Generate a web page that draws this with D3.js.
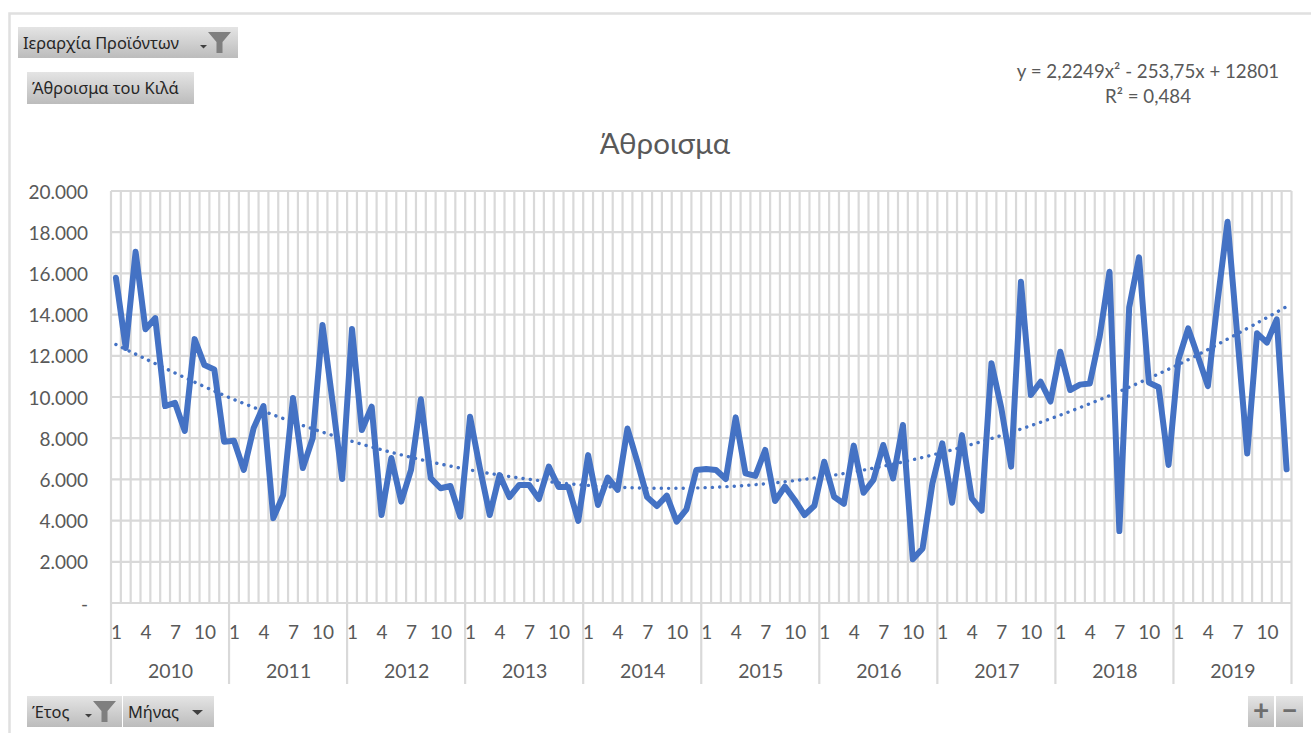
<!DOCTYPE html>
<html lang="el">
<head>
<meta charset="utf-8">
<title>Άθροισμα</title>
<script src="https://cdn.jsdelivr.net/npm/d3@7/dist/d3.min.js"></script>
<style>
  html, body { margin: 0; padding: 0; background: #fff; overflow: hidden; }
  svg { display: block; }
  text { font-family: Lato, "Noto Sans", sans-serif; }
  .axis text { fill: #595959; }
  .btn-label { fill: #262626; font-size: 16.4px; font-family: "Noto Sans", Lato, sans-serif; }
</style>
</head>
<body>
<svg id="chart" width="1311" height="733"></svg>
<script>
// Monthly totals (kg), January 2010 to December 2019
const years = [2010, 2011, 2012, 2013, 2014, 2015, 2016, 2017, 2018, 2019];
const monthTicks = [1, 4, 7, 10];
const yTicks = [0, 2000, 4000, 6000, 8000, 10000, 12000, 14000, 16000, 18000, 20000];
const kilos = [
  15790, 12380, 17050, 13290, 13830, 9560, 9720, 8350, 12810, 11550, 11340, 7830,
  7880, 6460, 8490, 9560, 4120, 5240, 9950, 6550, 8000, 13500, 9850, 6020,
  13300, 8400, 9530, 4270, 7040, 4920, 6460, 9890, 6060, 5570, 5680, 4190,
  9040, 6540, 4270, 6210, 5140, 5730, 5730, 5050, 6620, 5630, 5630, 3990,
  7180, 4760, 6090, 5490, 8470, 6860, 5140, 4710, 5210, 3950, 4550, 6460,
  6500, 6460, 6020, 9010, 6290, 6170, 7430, 4950, 5650, 5000, 4270, 4720,
  6860, 5160, 4820, 7640, 5350, 5970, 7670, 6050, 8640, 2120, 2650, 5810,
  7750, 4870, 8150, 5080, 4480, 11640, 9470, 6620, 15600, 10100, 10740, 9780,
  12200, 10340, 10600, 10660, 12930, 16080, 3490, 14350, 16780, 10700, 10470, 6700,
  11800, 13330, 11960, 10530, 14710, 18510, 12930, 7260, 13090, 12640, 13770, 6490
];
// Polynomial trend, read at the first month of each year and at the last month
const trendIndex = [1, 13, 25, 37, 49, 61, 73, 85, 97, 109, 120];
const trendKilos = [12549, 9878, 7848, 6458, 5709, 5601, 6134, 7307, 9121, 11575, 14389];

const chartTitle = "Άθροισμα";
const equationLines = ["y = 2,2249x² - 253,75x + 12801", "R² = 0,484"];

const svg = d3.select("#chart");
const plot = { left: 111, right: 1291.5, top: 191, bottom: 603 };
const gridColor = "#d9d9d9";
const textColor = "#595959";

const months = d3.range(1, kilos.length + 1);
const x = d3.scaleBand().domain(months).range([plot.left, plot.right]);
const xIndex = d3.scaleLinear()
  .domain([1, kilos.length])
  .range([x(1) + x.bandwidth() / 2, x(kilos.length) + x.bandwidth() / 2]);
const y = d3.scaleLinear().domain([0, 20000]).range([plot.bottom, plot.top]);

// Outer frame of the chart area
svg.append("path")
  .attr("d", "M1311,13.5H9.5V733")
  .attr("fill", "none").attr("stroke", "#e0e0e0").attr("stroke-width", 2.5);

// Gridlines
svg.append("g").selectAll("line").data(yTicks).join("line")
  .attr("x1", plot.left).attr("x2", plot.right)
  .attr("y1", d => y(d)).attr("y2", d => y(d))
  .attr("stroke", gridColor).attr("stroke-width", 2.2);
svg.append("g").selectAll("line").data(d3.range(0, kilos.length + 1)).join("line")
  .attr("x1", d => plot.left + d * x.bandwidth()).attr("x2", d => plot.left + d * x.bandwidth())
  .attr("y1", plot.top).attr("y2", plot.bottom)
  .attr("stroke", gridColor).attr("stroke-width", 2.2);

// Year separators running below the plot
svg.append("g").selectAll("line").data(d3.range(0, years.length + 1)).join("line")
  .attr("x1", d => plot.left + d * 12 * x.bandwidth()).attr("x2", d => plot.left + d * 12 * x.bandwidth())
  .attr("y1", plot.bottom).attr("y2", 684)
  .attr("stroke", gridColor).attr("stroke-width", 2.2);

// Value axis with Greek thousands separator and a dash for zero
const greek = d3.formatLocale({ decimal: ",", thousands: ".", grouping: [3], currency: ["", "€"] });
const fmt = greek.format(",");
const yAxis = svg.append("g").attr("class", "axis")
  .attr("transform", "translate(88,1)")
  .call(d3.axisLeft(y).tickValues(yTicks).tickSize(0).tickPadding(0)
    .tickFormat(d => d === 0 ? "-" : fmt(d)));
yAxis.select(".domain").remove();
yAxis.selectAll("text").attr("font-size", 19);

// Month row: 1, 4, 7, 10 in every year
const shownMonths = months.filter(i => monthTicks.includes((i - 1) % 12 + 1));
const xAxis = svg.append("g").attr("class", "axis")
  .attr("transform", "translate(0.5,625)")
  .call(d3.axisBottom(x).tickValues(shownMonths).tickSize(0).tickPadding(0)
    .tickFormat(i => (i - 1) % 12 + 1));
xAxis.select(".domain").remove();
xAxis.selectAll("text").attr("font-size", 19);

// Year row, centred in each twelve-month block
const yearScale = d3.scaleBand().domain(years).range([plot.left, plot.right]);
const yearAxis = svg.append("g").attr("class", "axis")
  .attr("transform", "translate(0.5,664)")
  .call(d3.axisBottom(yearScale).tickSize(0).tickPadding(0));
yearAxis.select(".domain").remove();
yearAxis.selectAll("text").attr("font-size", 19.5);

// Dotted polynomial trend
svg.append("path")
  .datum(trendIndex.map((m, i) => [m, trendKilos[i]]))
  .attr("d", d3.line().x(d => xIndex(d[0])).y(d => y(d[1])).curve(d3.curveCatmullRom))
  .attr("fill", "none").attr("stroke", "#4472c4").attr("stroke-width", 3.4)
  .attr("stroke-linecap", "round").attr("stroke-dasharray", "0.1 7.2");

// Monthly series
svg.append("path")
  .datum(kilos)
  .attr("d", d3.line().x((d, i) => xIndex(i + 1)).y(d => y(d)))
  .attr("fill", "none").attr("stroke", "#4472c4").attr("stroke-width", 6)
  .attr("stroke-linejoin", "round").attr("stroke-linecap", "round");

// Title and trendline equation
svg.append("text").attr("x", 665).attr("y", 154).attr("text-anchor", "middle")
  .attr("fill", textColor).attr("font-size", 29.5).text(chartTitle);
svg.append("g").selectAll("text").data(equationLines).join("text")
  .attr("x", 1148).attr("y", (d, i) => 78 + i * 25).attr("text-anchor", "middle")
  .attr("fill", textColor).attr("font-size", 18.7).text(d => d);

// Pivot field buttons
const defs = svg.append("defs");
const grad = defs.append("linearGradient").attr("id", "btnFill")
  .attr("x1", 0).attr("y1", 0).attr("x2", 0).attr("y2", 1);
grad.append("stop").attr("offset", "0%").attr("stop-color", "#e4e4e4");
grad.append("stop").attr("offset", "100%").attr("stop-color", "#bcbcbc");

const buttons = [
  { label: "Ιεραρχία Προϊόντων", x: 18, y: 27, w: 220, h: 31, filter: true, drop: true, tx: 5, iconX: 202 },
  { label: "Άθροισμα του Κιλά", x: 27, y: 72, w: 167, h: 32, tx: 5 },
  { label: "Έτος", x: 27, y: 696, w: 95, h: 31, filter: true, drop: true, tx: 5, iconX: 87 },
  { label: "Μήνας", x: 123, y: 696, w: 91, h: 31, drop: true, tx: 5, iconX: 198, plainDrop: true }
];
const btn = svg.append("g").selectAll("g").data(buttons).join("g")
  .attr("transform", d => `translate(${d.x},${d.y})`);
btn.append("rect").attr("width", d => d.w).attr("height", d => d.h).attr("fill", "url(#btnFill)");
btn.append("text").attr("class", "btn-label").attr("x", d => d.tx).attr("y", d => d.h / 2 + 6).text(d => d.label);

// Small dropdown arrows
svg.append("g").selectAll("path").data(buttons.filter(d => d.drop)).join("path")
  .attr("d", d => d.plainDrop
    ? `M${d.iconX - 6},${d.y + 14}h11l-5.5,5z`
    : `M${d.iconX - 2},${d.y + 18}h7l-3.5,3.5z`)
  .attr("fill", "#404040");

// Funnel glyphs
svg.append("g").selectAll("path").data(buttons.filter(d => d.filter)).join("path")
  .attr("d", d => `M${d.iconX + 6},${d.y + 5}h23l-8.5,10v11h-6v-11z`)
  .attr("fill", "#7f7f7f");

// Zoom controls
const zoomBtns = [
  { label: "+", x: 1248, w: 26 },
  { label: "−", x: 1276, w: 27 }
];
const zb = svg.append("g").selectAll("g").data(zoomBtns).join("g")
  .attr("transform", d => `translate(${d.x},696)`);
zb.append("rect").attr("width", d => d.w).attr("height", 31).attr("fill", "url(#btnFill)");
zb.append("text").attr("x", d => d.w / 2).attr("y", 24).attr("text-anchor", "middle")
  .attr("fill", "#6e6e6e").attr("font-size", 28).attr("font-weight", 700).text(d => d.label);
</script>
</body>
</html>
